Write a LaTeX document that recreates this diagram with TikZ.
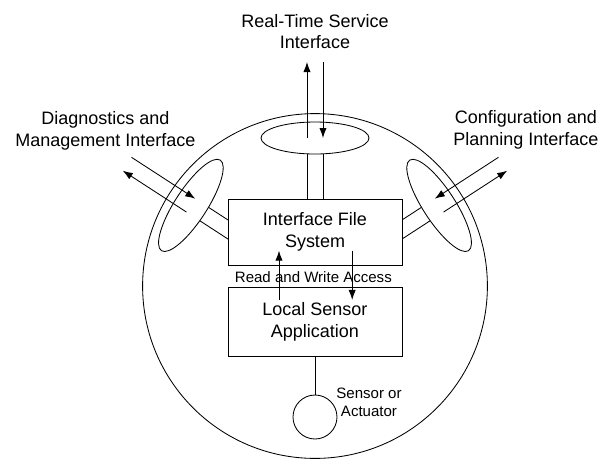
\documentclass[tikz,border=0pt]{standalone}
\usepackage{fontspec}
\setmainfont{Liberation Sans}
\usetikzlibrary{arrows.meta}

\begin{document}
\begin{tikzpicture}[semithick,
    arr/.style={-{Latex[length=2.5mm,width=1.8mm]}},
    blk/.style={draw,fill=white,minimum width=4.35cm,align=center,font=\fontsize{12.8}{15.3}\selectfont},
    lbl/.style={align=center,font=\fontsize{12.8}{15.3}\selectfont},
    lblsm/.style={align=center,font=\fontsize{10.7}{12.6}\selectfont}]
\useasboundingbox (-7.875,-4.325) rectangle (7.275,7.15);
\draw (0,0) circle (4.31);
% interfaces round the sphere
\foreach \a/\s/\n in {90/1/rts,147/1/dam,33/-1/cap}{
  \begin{scope}[rotate=\a-90,xscale=\s]
    \draw (0,3.7) ellipse (1.35 and 0.4);
    \draw (-0.2,3.3) -- (-0.2,1.5) (0.2,3.3) -- (0.2,1.5);
    \coordinate (\n-i1) at (-0.2,3.7); \coordinate (\n-o1) at (-0.2,5.6);
    \coordinate (\n-i2) at (0.2,3.7);  \coordinate (\n-o2) at (0.2,5.6);
    \draw[arr] (\n-i1) -- (\n-o1);
    \draw[arr] (\n-o2) -- (\n-i2);
  \end{scope}
}
\node[blk,minimum height=1.65cm] (ifs) at (0,1.35) {Interface File\\System};
\node[blk,minimum height=1.72cm] (lsa) at (0,-0.89) {Local Sensor\\Application};
\node[lblsm,anchor=west] (rwa) at (-2.13,0.225) {Read and Write Access};
\draw[arr] ([shift={(-0.9,-0.33)}]lsa.north) -- ([shift={(-0.9,0.37)}]ifs.south);
\draw[arr] ([shift={(0.93,0.37)}]ifs.south) -- ([shift={(0.93,-0.33)}]lsa.north);
\node[draw,circle,minimum size=1.1cm,inner sep=0pt] (sen) at (0,-3.275) {};
\draw (lsa.south) -- (sen.north);
\node[lblsm] (senl) at (1.35,-2.9) {Sensor or\\Actuator};
% labels
\node[lbl] (rtsl) at (0,6.36) {Real-Time Service\\Interface};
\node[lbl] (daml) at (-5.24,3.875) {Diagnostics and\\Management Interface};
\node[lbl] (capl) at (5.275,3.9) {Configuration and\\Planning Interface};
\end{tikzpicture}
\end{document}
